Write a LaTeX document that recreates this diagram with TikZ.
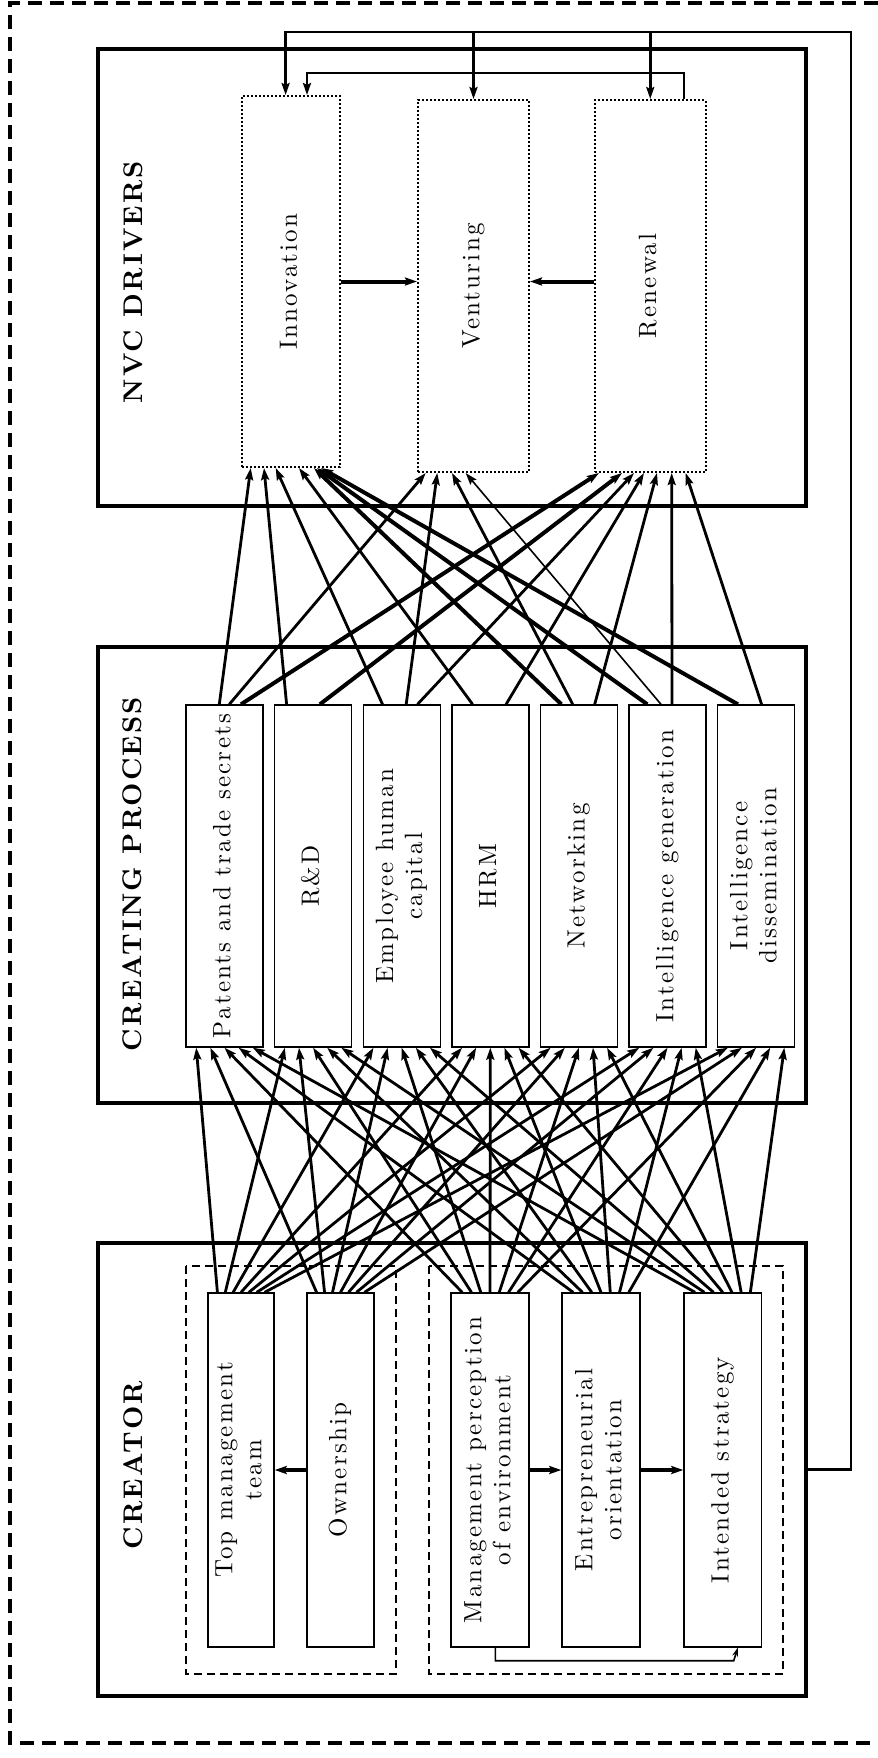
\documentclass[tikz,border=0pt]{standalone}
\usepackage{fontspec}
\usepackage{graphicx}
\usetikzlibrary{calc,arrows.meta}

\newfontfamily\lmsp[LetterSpace=9]{lmroman10-regular.otf}
\newfontfamily\lmbsp[LetterSpace=8]{lmroman10-bold.otf}
\newcommand{\bxfont}{\lmsp\fontsize{12.5}{14.5}\selectfont}
\newcommand{\hdfont}{\lmbsp\fontsize{13.5}{16}\selectfont}
\newcommand{\vlabel}[1]{\rotatebox{90}{\begin{tabular}{@{}c@{}}#1\end{tabular}}}

\begin{document}
\begin{tikzpicture}[x=0.5pt, y=-0.5pt,
    >={Stealth[length=6pt,width=4pt,inset=1pt]},
    frame/.style={line width=1.7pt, dash pattern=on 7pt off 4pt},
    panel/.style={draw, line width=2.4pt, inner sep=0pt},
    grp/.style={draw, line width=1pt, dash pattern=on 4pt off 2.5pt},
    srcbox/.style={draw, fill=white, line width=0.7pt, minimum height=177pt, inner sep=0pt, font=\bxfont},
    procbox/.style={draw, fill=white, line width=0.7pt, minimum width=38.5pt, minimum height=171pt, inner sep=0pt, font=\bxfont},
    drvbox/.style={draw, fill=white, line width=1pt, densely dotted, minimum height=186pt, inner sep=0pt, font=\bxfont},
    heading/.style={rotate=90, font=\hdfont},
    link/.style={line width=1.4pt},
    heavy/.style={line width=2pt},
    light/.style={line width=0.8pt},
    feed/.style={line width=1.3pt}]

  \useasboundingbox (0,0) rectangle (878,1758);

  % outer frame, runs off the right edge
  \draw[frame] (878,3) -- (10,3) -- (10,1743) -- (878,1743);

  % panels
  \node[panel, minimum width=354pt, minimum height=228.5pt] (nvcpanel) at (452,277.5) {};
  \node[panel, minimum width=354pt, minimum height=228pt] (cppanel) at (452,875) {};
  \node[panel, minimum width=354pt, minimum height=226.5pt] (crpanel) at (452,1469.5) {};

  \draw[grp] (186,1266) rectangle (396,1674);
  \draw[grp] (429,1266) rectangle (783,1674);

  \node[heading] (tnvc) at (133,282) {NVC DRIVERS};
  \node[heading] (tcp) at (132,874) {CREATING PROCESS};
  \node[heading] (tcr) at (133,1465) {CREATOR};

  % drivers
  \node[drvbox, minimum width=49pt, minimum height=185.5pt] (inn) at (291,281.5) {\vlabel{Innovation}};
  \node[drvbox, minimum width=55.5pt] (ven) at (473.5,286) {\vlabel{Venturing}};
  \node[drvbox, minimum width=55.25pt] (ren) at (650.25,286) {\vlabel{Renewal}};

  % creating process
  \node[procbox] (pat) at (224.5,876) {\vlabel{Patents and trade secrets}};
  \node[procbox] (rd) at (313.1,876) {\vlabel{R\&D}};
  \node[procbox] (ehc) at (401.7,876) {\vlabel{Employee human\\capital}};
  \node[procbox] (hrm) at (490.3,876) {\vlabel{HRM}};
  \node[procbox] (net) at (578.9,876) {\vlabel{Networking}};
  \node[procbox] (ig) at (667.5,876) {\vlabel{Intelligence generation}};
  \node[procbox] (id) at (756.1,876) {\vlabel{Intelligence\\dissemination}};

  % creator
  \node[srcbox, minimum width=33pt] (tmt) at (241,1470) {\vlabel{Top management\\team}};
  \node[srcbox, minimum width=33.5pt] (own) at (340.5,1470) {\vlabel{Ownership}};
  \node[srcbox, minimum width=39pt] (mpe) at (490,1470) {\vlabel{Management perception\\of environment}};
  \node[srcbox, minimum width=39pt] (eo) at (601,1470) {\vlabel{Entrepreneurial\\orientation}};
  \node[srcbox, minimum width=38.75pt] (is) at (722.75,1470) {\vlabel{Intended strategy}};

  % creator -> creating process
  \foreach \s [count=\i from 0] in {tmt,own,mpe,eo,is}
    \foreach \t [count=\j from 0] in {pat,rd,ehc,hrm,net,ig,id}
      \draw[->, link] ($(\s.north west)!{0.15+0.7*\j/6}!(\s.north east)$)
        -- ($(\t.south west)!{0.14+0.72*\i/4}!(\t.south east)$);

  % creating process -> drivers
  \foreach \s/\a/\t/\b/\w in {
      pat/34/inn/9.7/link, pat/44/ven/8.7/link, pat/55.7/ren/5/heavy,
      rd/12.7/inn/23/link, rd/46/ren/28/heavy,
      ehc/20/inn/34.7/link, ehc/43.7/ven/20.3/link, ehc/55/ren/40/link,
      hrm/21.5/inn/58/link, hrm/55/ren/50/link,
      net/21.7/inn/73/heavy, net/33/ven/35/link, net/55/ren/63/link,
      ig/19/inn/76/heavy, ig/32.7/ven/48.7/light, ig/43.7/ren/77.7/link,
      id/21/inn/80/heavy, id/44.7/ren/91.7/link}
    \draw[->, \w] ($(\s.north west)+(\a,0)$) -- ($(\t.south west)+(\b,0)$);

  % arrows inside panels
  \draw[->, heavy] (inn.east) -- (inn.east -| ven.west);
  \draw[->, heavy] (ren.west |- inn.east) -- (ven.east |- inn.east);
  \draw[->, heavy] (own.west) -- (tmt.east);
  \draw[->, heavy] (mpe.east) -- (eo.west);
  \draw[->, heavy] (eo.east) -- (is.west);
  \draw[->, light, >={Stealth[length=4.5pt,width=3pt]}] ([xshift=2.7pt]mpe.south) -- ++(0,13)
    -- ($(is.south)+(11,13)$) -- ($(is.south)+(15,0)$);

  % feedback to the drivers
  \coordinate (fb) at (851,32);
  \draw[->, feed] (crpanel.east) -| (fb) -- ([xshift=-2.7pt]fb -| inn.north) -- ([xshift=-2.7pt]inn.north);
  \draw[->, feed] (fb -| ven.north) -- (ven.north);
  \draw[->, feed] (fb -| ren.north) -- (ren.north);
  \draw[->, feed] ([xshift=16.9pt]ren.north) -- ++(0,-26) -| ([xshift=8pt]inn.north);
\end{tikzpicture}
\end{document}
